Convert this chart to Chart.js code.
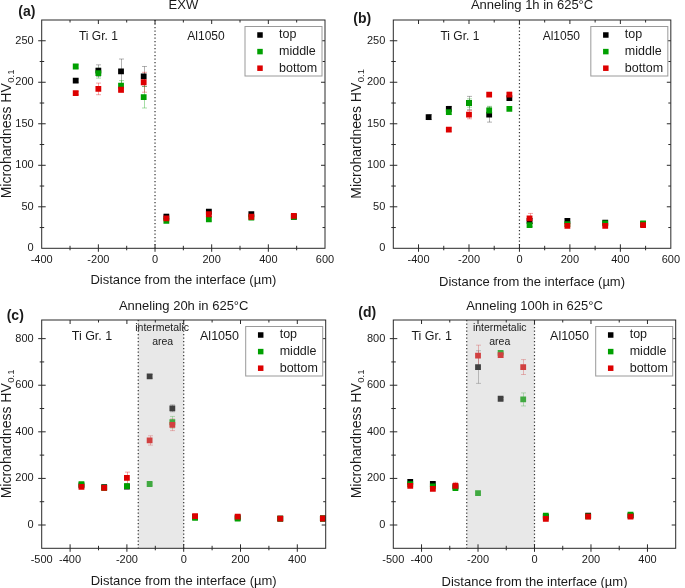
<!DOCTYPE html>
<html>
<head>
<meta charset="utf-8">
<script src="https://cdn.jsdelivr.net/npm/chart.js@4.4.1/dist/chart.umd.min.js"></script>
<style>
  body { margin: 0; background: #fff; }
  #wrap { position: relative; width: 685px; height: 588px; overflow: hidden; background: #fff; }
  .panel { position: absolute; }
  canvas { display: block; }
</style>
</head>
<body>
<div id="wrap">
  <div class="panel" style="left:0;top:0"><canvas id="chartA" width="340" height="290"></canvas></div>
  <div class="panel" style="left:340px;top:0"><canvas id="chartB" width="345" height="290"></canvas></div>
  <div class="panel" style="left:0;top:290px"><canvas id="chartC" width="340" height="298"></canvas></div>
  <div class="panel" style="left:340px;top:290px"><canvas id="chartD" width="345" height="298"></canvas></div>
</div>
<script>
// series names / colours
const seriesNames = ['top', 'middle', 'bottom'];
const seriesColors = ['#000000', '#00a000', '#dd0000'];
const errColors = ['rgba(0,0,0,0.3)', 'rgba(0,160,0,0.35)', 'rgba(221,0,0,0.35)'];

// (a) EXW
const aX = [-280, -200, -120, -40, 40, 190, 340, 490];
const aTop = [202, 214, 213, 207, 38, 44, 41, 38];
const aMid = [219, 211, 196, 182, 33, 35, 37, 38];
const aBot = [187, 192, 191, 200, 36, 41, 38, 39];
const aTopErr = [2, 7, 15, 12, 3, 2, 2, 2];
const aMidErr = [2, 6, 6, 13, 2, 2, 2, 2];
const aBotErr = [2, 7, 3, 12, 3, 3, 2, 2];
const aXTicks = [-400, -200, 0, 200, 400, 600];
const aYTicks = [0, 50, 100, 150, 200, 250];

// (b) Anneling 1h
const bX = [-360, -280, -200, -120, -40, 40, 190, 340, 490];
const bTop = [158, 168, 175, 161, 181, 33, 33, 31, 29];
const bMid = [null, 164, 175, 166, 168, 28, 29, 30, 30];
const bBot = [null, 143, 161, 185, 185, 36, 27, 27, 28];
const bTopErr = [3, 3, 8, 9, 3, 3, 2, 2, 2];
const bMidErr = [0, 3, 5, 5, 2, 2, 2, 2, 2];
const bBotErr = [0, 2, 5, 2, 3, 6, 2, 2, 2];
const bXTicks = [-400, -200, 0, 200, 400, 600];
const bYTicks = [0, 50, 100, 150, 200, 250];

// (c) Anneling 20h
const cX = [-360, -280, -200, -120, -40, 40, 190, 340, 490];
const cTop = [170, 162, 165, 638, 501, 35, 32, 27, 28];
const cMid = [175, 160, 167, 176, 441, 31, 27, 27, 28];
const cBot = [164, 159, 202, 363, 430, 38, 36, 27, 28];
const cTopErr = [5, 5, 5, 8, 15, 5, 5, 3, 3];
const cMidErr = [5, 5, 8, 5, 25, 5, 5, 3, 3];
const cBotErr = [5, 5, 25, 20, 25, 8, 8, 3, 3];
const cXTicks = [-500, -400, -200, 0, 200, 400];
const cYTicks = [0, 200, 400, 600, 800];

// (d) Anneling 100h
const dX = [-440, -360, -280, -200, -120, -40, 40, 190, 340];
const dTop = [185, 176, 165, 678, 542, null, 35, 40, 40];
const dMid = [175, 166, 158, 137, 739, 539, 40, 37, 44];
const dBot = [168, 155, 168, 727, 729, 678, 26, 36, 36];
const dTopErr = [5, 5, 5, 70, 5, 0, 5, 5, 5];
const dMidErr = [5, 5, 5, 5, 5, 28, 5, 5, 5];
const dBotErr = [5, 5, 15, 45, 8, 32, 8, 5, 5];
const dXTicks = [-500, -400, -200, 0, 200, 400];
const dYTicks = [0, 200, 400, 600, 800];

const FONT = "'Liberation Sans', Arial, sans-serif";
const TEXT = '#1a1a1a';

// layout / decoration of each panel
const panels = {
  chartA: {
    w: 340, h: 290, area: { left: 41.7, right: 325, top: 20, bottom: 248.3 },
    xMin: -400, xMax: 600, yMin: 0, yMax: 275, xMinor: 100, yMinor: 25,
    xTicks: aXTicks, yTicks: aYTicks,
    title: 'EXW', titleY: 9, label: '(a)', labelX: 18.3, labelY: 12,
    yTitle: 'Microhardness HV', yTitleX: 6.7, xTitleY: 280,
    shade: null, dotted: [0],
    notes: [
      { text: 'Ti Gr. 1', x: -200, y: 255, size: 12 },
      { text: 'Al1050', x: 180, y: 255, size: 12 }
    ]
  },
  chartB: {
    w: 345, h: 290, area: { left: 53.3, right: 335, top: 20, bottom: 248.3 },
    xMin: -500, xMax: 600, yMin: 0, yMax: 275, xMinor: 100, yMinor: 25,
    xTicks: bXTicks, yTicks: bYTicks,
    title: 'Anneling 1h in 625°C', titleY: 9, label: '(b)', labelX: 13.3, labelY: 19,
    yTitle: 'Microhardnees HV', yTitleX: 16.7, xTitleY: 282.7,
    shade: null, dotted: [0],
    notes: [
      { text: 'Ti Gr. 1', x: -236, y: 255, size: 12 },
      { text: 'Al1050', x: 166, y: 255, size: 12 }
    ]
  },
  chartC: {
    w: 340, h: 298, area: { left: 41.7, right: 325.7, top: 30, bottom: 258.3 },
    xMin: -500, xMax: 500, yMin: -100, yMax: 880, xMinor: 100, yMinor: 100,
    xTicks: cXTicks, yTicks: cYTicks,
    title: 'Anneling 20h in 625°C', titleY: 20, label: '(c)', labelX: 6.7, labelY: 25.7,
    yTitle: 'Microhardness HV', yTitleX: 6.7, xTitleY: 291,
    shade: [-160, 0], dotted: [-160, 0],
    notes: [
      { text: 'Ti Gr. 1', x: -323, y: 811, size: 12.5 },
      { text: 'Al1050', x: 126, y: 811, size: 12.5 },
      { text: 'intermetalic', x: -76, y: 845, size: 10.5 },
      { text: 'area', x: -74, y: 786, size: 10.5 }
    ]
  },
  chartD: {
    w: 345, h: 298, area: { left: 53.3, right: 335.7, top: 30, bottom: 258.3 },
    xMin: -500, xMax: 500, yMin: -100, yMax: 880, xMinor: 100, yMinor: 100,
    xTicks: dXTicks, yTicks: dYTicks,
    title: 'Anneling 100h in 625°C', titleY: 20, label: '(d)', labelX: 18.3, labelY: 23.3,
    yTitle: 'Microhardness HV', yTitleX: 16.7, xTitleY: 292.3,
    shade: [-240, 0], dotted: [-240, 0],
    notes: [
      { text: 'Ti Gr. 1', x: -364, y: 811, size: 12.5 },
      { text: 'Al1050', x: 124, y: 811, size: 12.5 },
      { text: 'intermetalic', x: -123, y: 845, size: 10.5 },
      { text: 'area', x: -123, y: 786, size: 10.5 }
    ]
  }
};

function drawErrorBars(chart) {
  const ctx = chart.ctx, xs = chart.scales.x, ys = chart.scales.y;
  ctx.save();
  ctx.lineWidth = 1;
  chart.data.datasets.forEach(ds => {
    ctx.strokeStyle = ds.errColor;
    ds.data.forEach((p, k) => {
      const e = ds.errors[k];
      if (p.y == null || !e) return;
      const px = Math.round(xs.getPixelForValue(p.x)) + 0.5;
      const y1 = ys.getPixelForValue(p.y + e);
      const y2 = ys.getPixelForValue(p.y - e);
      ctx.beginPath();
      ctx.moveTo(px, y1); ctx.lineTo(px, y2);
      ctx.moveTo(px - 2.5, y1); ctx.lineTo(px + 2.5, y1);
      ctx.moveTo(px - 2.5, y2); ctx.lineTo(px + 2.5, y2);
      ctx.stroke();
    });
  });
  ctx.restore();
}

function drawDecor(chart, cfg) {
  const ctx = chart.ctx, xs = chart.scales.x, ys = chart.scales.y;
  const { left, right, top, bottom } = chart.chartArea;
  ctx.save();

  // intermetallic area
  if (cfg.shade) {
    const x1 = xs.getPixelForValue(cfg.shade[0]), x2 = xs.getPixelForValue(cfg.shade[1]);
    ctx.fillStyle = 'rgba(188,188,188,0.34)';
    ctx.fillRect(x1, top, x2 - x1, bottom - top);
  }

  // dotted boundaries
  ctx.strokeStyle = '#333';
  ctx.lineWidth = 1.2;
  ctx.setLineDash([1.3, 2.2]);
  cfg.dotted.forEach(v => {
    const px = xs.getPixelForValue(v);
    ctx.beginPath();
    ctx.moveTo(px, top); ctx.lineTo(px, bottom);
    ctx.stroke();
  });
  ctx.setLineDash([]);

  // frame + ticks
  ctx.strokeStyle = '#2a2a2a';
  ctx.lineWidth = 1;
  ctx.strokeRect(left, top, right - left, bottom - top);
  ctx.beginPath();
  for (let v = Math.ceil(cfg.xMin / cfg.xMinor) * cfg.xMinor; v < cfg.xMax; v += cfg.xMinor) {
    if (v <= cfg.xMin) continue;
    const major = cfg.xTicks.includes(v);
    const px = xs.getPixelForValue(v);
    const out = major ? 3.5 : 2, inn = major ? 4 : 2.5;
    ctx.moveTo(px, bottom + out); ctx.lineTo(px, bottom - inn);
    ctx.moveTo(px, top); ctx.lineTo(px, top + inn);
  }
  for (let v = Math.ceil(cfg.yMin / cfg.yMinor) * cfg.yMinor; v < cfg.yMax; v += cfg.yMinor) {
    if (v <= cfg.yMin) continue;
    const major = cfg.yTicks.includes(v);
    const py = ys.getPixelForValue(v);
    const out = major ? 3.5 : 2, inn = major ? 4 : 2.5;
    ctx.moveTo(left - out, py); ctx.lineTo(left + inn, py);
    ctx.moveTo(right, py); ctx.lineTo(right - inn, py);
  }
  ctx.stroke();

  // region notes
  ctx.fillStyle = TEXT;
  ctx.textAlign = 'center';
  ctx.textBaseline = 'middle';
  cfg.notes.forEach(n => {
    ctx.font = n.size + 'px ' + FONT;
    ctx.fillText(n.text, xs.getPixelForValue(n.x), ys.getPixelForValue(n.y));
  });

  // legend
  const lw = 77, lh = 49.5;
  const lx = right - 3 - lw, ly = top + 6.5;
  ctx.fillStyle = '#fff';
  ctx.fillRect(lx, ly, lw, lh);
  ctx.strokeStyle = '#9a9a9a';
  ctx.strokeRect(lx, ly, lw, lh);
  ctx.font = '12.5px ' + FONT;
  ctx.textAlign = 'left';
  seriesNames.forEach((name, i) => {
    const ry = ly + 8.5 + i * 16.6;
    ctx.fillStyle = seriesColors[i];
    ctx.fillRect(lx + 15 - 2.75, ry - 2.75, 5.5, 5.5);
    ctx.fillStyle = TEXT;
    ctx.fillText(name, lx + 34, ry);
  });

  // chart title and panel label
  const cx = (left + right) / 2;
  ctx.textAlign = 'center';
  ctx.textBaseline = 'alphabetic';
  ctx.font = '13px ' + FONT;
  ctx.fillText(cfg.title, cx, cfg.titleY);
  ctx.textAlign = 'left';
  ctx.textBaseline = 'middle';
  ctx.font = 'bold 14px ' + FONT;
  ctx.fillText(cfg.label, cfg.labelX, cfg.labelY);

  // x title
  ctx.textAlign = 'center';
  ctx.font = '13px ' + FONT;
  ctx.fillText('Distance from the interface (µm)', cx, cfg.xTitleY);

  // y title with subscript
  ctx.save();
  ctx.translate(cfg.yTitleX, (top + bottom) / 2);
  ctx.rotate(-Math.PI / 2);
  ctx.font = '14px ' + FONT;
  const w1 = ctx.measureText(cfg.yTitle).width;
  ctx.font = '9.5px ' + FONT;
  const w2 = ctx.measureText('0.1').width;
  const x0 = -(w1 + w2) / 2;
  ctx.textAlign = 'left';
  ctx.font = '14px ' + FONT;
  ctx.fillText(cfg.yTitle, x0, 0);
  ctx.font = '9.5px ' + FONT;
  ctx.fillText('0.1', x0 + w1 + 0.5, 4.5);
  ctx.restore();

  ctx.restore();
}

const panelDecor = {
  id: 'panelDecor',
  beforeDatasetsDraw(chart) {
    drawErrorBars(chart);
  },
  afterDatasetsDraw(chart) {
    drawDecor(chart, panels[chart.canvas.id]);
  }
};

function toPoints(xs, ys) {
  return xs.map((x, k) => ({ x: x, y: ys[k] }));
}

function makeChart(id, xs, tops, mids, bots, topErr, midErr, botErr) {
  const cfg = panels[id];
  const ys = [tops, mids, bots];
  const es = [topErr, midErr, botErr];
  const datasets = seriesNames.map((name, i) => ({
    label: name,
    data: toPoints(xs, ys[i]),
    errors: es[i],
    errColor: errColors[i],
    backgroundColor: seriesColors[i],
    borderWidth: 0,
    pointStyle: 'rect',
    pointRadius: 4.1,
    order: 3 - i
  }));
  const tickFont = { family: FONT, size: 11 };
  new Chart(document.getElementById(id), {
    type: 'scatter',
    data: { datasets: datasets },
    options: {
      responsive: false,
      animation: false,
      events: [],
      layout: { padding: { left: 0, bottom: 0, top: cfg.area.top, right: cfg.w - cfg.area.right } },
      plugins: { legend: { display: false }, tooltip: { enabled: false } },
      scales: {
        x: {
          type: 'linear', min: cfg.xMin, max: cfg.xMax,
          afterBuildTicks: s => { s.ticks = cfg.xTicks.map(v => ({ value: v })); },
          afterFit: s => { s.height = cfg.h - cfg.area.bottom; },
          grid: { display: false, drawTicks: false },
          border: { display: false },
          ticks: { font: tickFont, color: TEXT, padding: 5, autoSkip: false, maxRotation: 0, callback: v => String(v) }
        },
        y: {
          type: 'linear', min: cfg.yMin, max: cfg.yMax,
          afterBuildTicks: s => { s.ticks = cfg.yTicks.map(v => ({ value: v })); },
          afterFit: s => { s.width = cfg.area.left; },
          grid: { display: false, drawTicks: false },
          border: { display: false },
          ticks: { font: tickFont, color: TEXT, padding: 8, autoSkip: false, callback: v => String(v) }
        }
      }
    },
    plugins: [panelDecor]
  });
}

makeChart('chartA', aX, aTop, aMid, aBot, aTopErr, aMidErr, aBotErr);
makeChart('chartB', bX, bTop, bMid, bBot, bTopErr, bMidErr, bBotErr);
makeChart('chartC', cX, cTop, cMid, cBot, cTopErr, cMidErr, cBotErr);
makeChart('chartD', dX, dTop, dMid, dBot, dTopErr, dMidErr, dBotErr);
</script>
</body>
</html>
